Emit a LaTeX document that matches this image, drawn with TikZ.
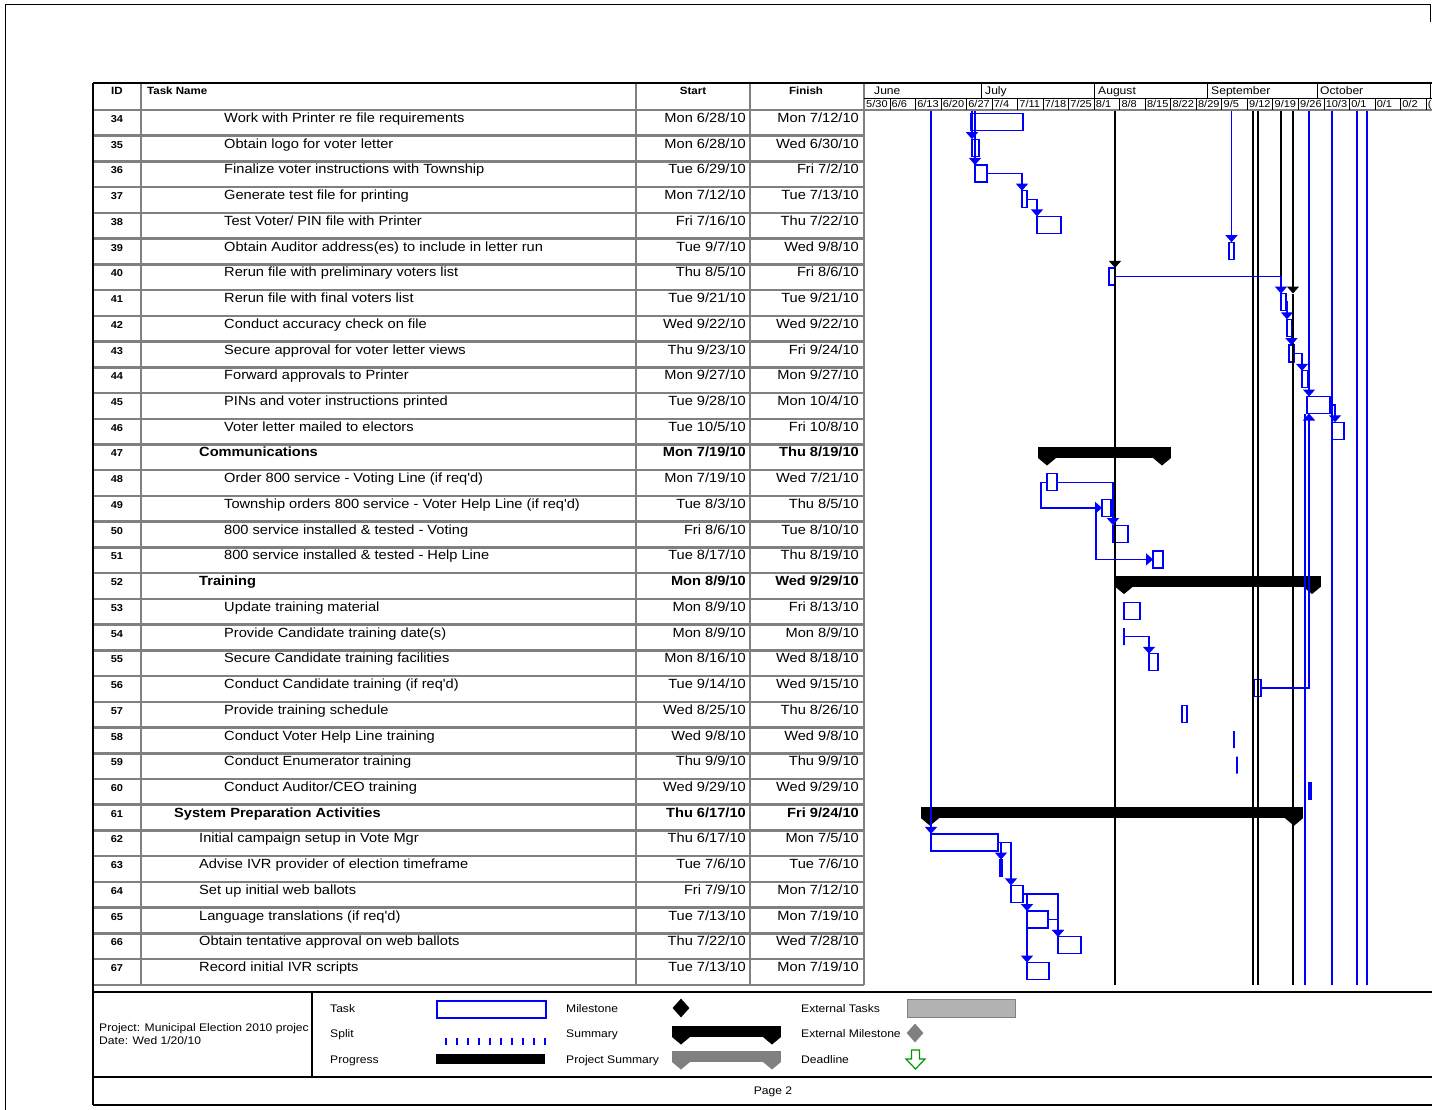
\documentclass[tikz,border=0pt]{standalone}
\usepackage{fontspec}
\usepackage{tikz}
\newfontfamily\ganttfont[FakeStretch=1.1]{Liberation Sans}
\definecolor{ganttblue}{RGB}{0, 0, 255}
\definecolor{gridgrey}{RGB}{128, 128, 128}
\definecolor{extgrey}{RGB}{178, 178, 178}
\definecolor{deadgreen}{RGB}{0, 150, 0}
\usetikzlibrary{arrows.meta, positioning, shapes.geometric}

% one line of the task table: [font] id, indent, name, start, finish
\newcommand\taskrow[6][]{%
  \pgfmathsetmacro\rowb{122.5+25.73*(#2-34)}%
  \node[idtext, anchor=base] (id#2) at (117,\rowb) {#2};
  \node[celltext, anchor=base west] (name#2) at (#3,\rowb) {#1#4};
  \node[celltext, anchor=base east] (start#2) at (746,\rowb) {#1#5};
  \node[celltext, anchor=base east] (finish#2) at (859,\rowb) {#1#6};
}
% summary bar with its two end caps: [colour] name, start x, end x, centre y
\newcommand\summarybar[5][black]{%
  \node[sumbar, fill=#1, minimum width={#4-#3+18}, anchor=north west] (#2) at ({#3-9},{#5-9.5}) {};
  \fill[#1] (#2.south west) -- ++(18,0) -- ++(-9,7.5) -- cycle;
  \fill[#1] (#2.south east) -- ++(-18,0) -- ++(9,7.5) -- cycle;
}

\begin{document}
\begin{tikzpicture}[
    x=1pt, y=-1pt,
    celltext/.style={font=\ganttfont\fontsize{13.3}{15}\selectfont, inner sep=0pt},
    idtext/.style={font=\ganttfont\fontsize{10}{12}\selectfont\bfseries, inner sep=0pt},
    headtext/.style={font=\ganttfont\fontsize{10.5}{13}\selectfont\bfseries, inner sep=0pt},
    monthtext/.style={font=\ganttfont\fontsize{11}{13}\selectfont, inner sep=0pt},
    scaletext/.style={font=\ganttfont\fontsize{10}{12}\selectfont, inner sep=0pt},
    legendtext/.style={font=\ganttfont\fontsize{11}{13}\selectfont, inner sep=0pt},
    task/.style={draw=ganttblue, line width=1.3pt, minimum height=17pt, inner sep=0pt, outer sep=0pt},
    sumbar/.style={minimum height=11pt, inner sep=0pt, outer sep=0pt},
    link/.style={ganttblue, line width=1.3pt, -{Triangle[width=12pt,length=7pt]}},
    blacklink/.style={black, line width=1.3pt, -{Triangle[width=12pt,length=7pt]}},
    passline/.style={ganttblue, line width=1.3pt},
    blackline/.style={black, line width=1.3pt},
    grid/.style={gridgrey, line width=2.5pt},
    frame/.style={black, line width=2pt}
]
    \useasboundingbox (0,0) rectangle (1432,1110);

    % Page edge
    \draw[line width=1pt] (5,1110) -- (5,5) -- (1430,5) -- (1430,22);

    % Table grid
    \foreach \k in {1,...,34}
        \draw[grid] (93,{110+25.73*\k}) -- (864,{110+25.73*\k});
    \draw[grid] (93,110) -- (1432,110);
    \draw[grid] (141,83) -- (141,985);
    \draw[grid] (636,83) -- (636,985);
    \draw[grid] (750,83) -- (750,985);
    \draw[grid] (864,83) -- (864,985);
    \draw[line width=1.5pt] (93,83) -- (93,1105);
    \draw[line width=2.5pt] (93,83) -- (1432,83);

    % Timescale
    \draw[line width=0.8pt] (864,98) -- (1432,98);
    \foreach \mx in {981,1094,1207,1317,1430}
        \draw[line width=0.8pt] (\mx,84) -- (\mx,98);
    \foreach \k in {1,...,22}
        \draw[line width=0.8pt] ({864.4+25.53*\k},98) -- ({864.4+25.53*\k},110);
    \node[monthtext, anchor=base west] (june) at (874,95) {June};
    \node[monthtext, anchor=base west] (july) at (985,95) {July};
    \node[monthtext, anchor=base west] (august) at (1098,95) {August};
    \node[monthtext, anchor=base west] (september) at (1211,95) {September};
    \node[monthtext, anchor=base west] (october) at (1320,95) {October};
    \foreach \lab [count=\k from 0] in {5/30,6/6,6/13,6/20,6/27,7/4,7/11,7/18,7/25,8/1,8/8,8/15,8/22,8/29,9/5,9/12,9/19,9/26,10/3,0/1,0/1,0/2}
        \node[scaletext, anchor=base west] (wk\k) at ({866+25.53*\k},108) {\lab};
    \node[scaletext, anchor=base west] (wk22) at (1427.6,108) {(};

    % Column heads
    \node[headtext, anchor=base] (hid) at (117,95) {ID};
    \node[headtext, anchor=base west] (hname) at (147,95) {Task Name};
    \node[headtext, anchor=base] (hstart) at (693,95) {Start};
    \node[headtext, anchor=base] (hfinish) at (806,95) {Finish};

    % Tasks
    \taskrow{34}{224}{Work with Printer re file requirements}{Mon 6/28/10}{Mon 7/12/10}
    \taskrow{35}{224}{Obtain logo for voter letter}{Mon 6/28/10}{Wed 6/30/10}
    \taskrow{36}{224}{Finalize voter instructions with Township}{Tue 6/29/10}{Fri 7/2/10}
    \taskrow{37}{224}{Generate test file for printing}{Mon 7/12/10}{Tue 7/13/10}
    \taskrow{38}{224}{Test Voter/ PIN file with Printer}{Fri 7/16/10}{Thu 7/22/10}
    \taskrow{39}{224}{Obtain Auditor address(es) to include in letter run}{Tue 9/7/10}{Wed 9/8/10}
    \taskrow{40}{224}{Rerun file with preliminary voters list}{Thu 8/5/10}{Fri 8/6/10}
    \taskrow{41}{224}{Rerun file with final voters list}{Tue 9/21/10}{Tue 9/21/10}
    \taskrow{42}{224}{Conduct accuracy check on file}{Wed 9/22/10}{Wed 9/22/10}
    \taskrow{43}{224}{Secure approval for voter letter views}{Thu 9/23/10}{Fri 9/24/10}
    \taskrow{44}{224}{Forward approvals to Printer}{Mon 9/27/10}{Mon 9/27/10}
    \taskrow{45}{224}{PINs and voter instructions printed}{Tue 9/28/10}{Mon 10/4/10}
    \taskrow{46}{224}{Voter letter mailed to electors}{Tue 10/5/10}{Fri 10/8/10}
    \taskrow[\bfseries]{47}{199}{Communications}{Mon 7/19/10}{Thu 8/19/10}
    \taskrow{48}{224}{Order 800 service - Voting Line (if req'd)}{Mon 7/19/10}{Wed 7/21/10}
    \taskrow{49}{224}{Township orders 800 service - Voter Help Line (if req'd)}{Tue 8/3/10}{Thu 8/5/10}
    \taskrow{50}{224}{800 service installed \& tested - Voting}{Fri 8/6/10}{Tue 8/10/10}
    \taskrow{51}{224}{800 service installed \& tested - Help Line}{Tue 8/17/10}{Thu 8/19/10}
    \taskrow[\bfseries]{52}{199}{Training}{Mon 8/9/10}{Wed 9/29/10}
    \taskrow{53}{224}{Update training material}{Mon 8/9/10}{Fri 8/13/10}
    \taskrow{54}{224}{Provide Candidate training date(s)}{Mon 8/9/10}{Mon 8/9/10}
    \taskrow{55}{224}{Secure Candidate training facilities}{Mon 8/16/10}{Wed 8/18/10}
    \taskrow{56}{224}{Conduct Candidate training (if req'd)}{Tue 9/14/10}{Wed 9/15/10}
    \taskrow{57}{224}{Provide training schedule}{Wed 8/25/10}{Thu 8/26/10}
    \taskrow{58}{224}{Conduct Voter Help Line training}{Wed 9/8/10}{Wed 9/8/10}
    \taskrow{59}{224}{Conduct Enumerator training}{Thu 9/9/10}{Thu 9/9/10}
    \taskrow{60}{224}{Conduct Auditor/CEO training}{Wed 9/29/10}{Wed 9/29/10}
    \taskrow[\bfseries]{61}{174}{System Preparation Activities}{Thu 6/17/10}{Fri 9/24/10}
    \taskrow{62}{199}{Initial campaign setup in Vote Mgr}{Thu 6/17/10}{Mon 7/5/10}
    \taskrow{63}{199}{Advise IVR provider of election timeframe}{Tue 7/6/10}{Tue 7/6/10}
    \taskrow{64}{199}{Set up initial web ballots}{Fri 7/9/10}{Mon 7/12/10}
    \taskrow{65}{199}{Language translations (if req'd)}{Tue 7/13/10}{Mon 7/19/10}
    \taskrow{66}{199}{Obtain tentative approval on web ballots}{Thu 7/22/10}{Wed 7/28/10}
    \taskrow{67}{199}{Record initial IVR scripts}{Tue 7/13/10}{Mon 7/19/10}

    % Bars
    \node[task, minimum width=52, anchor=west] (b34) at (971,122) {};
    \node[task, minimum width=7, anchor=west] (b35) at (972,147.7) {};
    \node[task, minimum width=12, anchor=west] (b36) at (975,173.5) {};
    \node[task, minimum width=5, anchor=west] (b37) at (1022,199.2) {};
    \node[task, minimum width=24, anchor=west] (b38) at (1037,224.9) {};
    \node[task, minimum width=5, anchor=west] (b39) at (1229,250.7) {};
    \node[task, minimum width=6, anchor=west] (b40) at (1109,276.4) {};
    \node[task, minimum width=5, anchor=west] (b41) at (1281,302.1) {};
    \node[task, minimum width=5, anchor=west] (b42) at (1287,327.8) {};
    \node[task, minimum width=5, anchor=west] (b43) at (1289,353.6) {};
    \node[task, minimum width=6, anchor=west] (b44) at (1302,379.3) {};
    \node[task, minimum width=23, anchor=west] (b45) at (1307,405) {};
    \node[task, minimum width=12, anchor=west] (b46) at (1332,430.8) {};
    \node[task, minimum width=10, anchor=west] (b48) at (1047,482.2) {};
    \node[task, minimum width=9, anchor=west] (b49) at (1102,507.9) {};
    \node[task, minimum width=15, anchor=west] (b50) at (1113,533.7) {};
    \node[task, minimum width=10, anchor=west] (b51) at (1153,559.4) {};
    \node[task, minimum width=16, anchor=west] (b53) at (1124,610.9) {};
    \node[task, minimum width=0, anchor=west] (b54) at (1124,636.6) {};
    \node[task, minimum width=9, anchor=west] (b55) at (1149,662.3) {};
    \node[task, minimum width=7, anchor=west] (b56) at (1254,688) {};
    \node[task, minimum width=5, anchor=west] (b57) at (1182,713.8) {};
    \node[task, minimum width=0, anchor=west] (b58) at (1234,739.5) {};
    \node[task, minimum width=0, anchor=west] (b59) at (1237,765.2) {};
    \node[task, minimum width=2, anchor=west] (b60) at (1309,791) {};
    \node[task, minimum width=67, anchor=west] (b62) at (931,842.4) {};
    \node[task, minimum width=2, anchor=west] (b63) at (1000,868.1) {};
    \node[task, minimum width=12, anchor=west] (b64) at (1011,893.9) {};
    \node[task, minimum width=21, anchor=west] (b65) at (1027,919.6) {};
    \node[task, minimum width=23, anchor=west] (b66) at (1058,945.3) {};
    \node[task, minimum width=22, anchor=west] (b67) at (1027,971.1) {};

    % Summaries
    \summarybar{s47}{1047}{1162}{456.5}
    \summarybar{s52}{1124}{1312}{585.1}
    \summarybar{s61}{930}{1294}{816.7}

    % Links coming from the previous page
    \coordinate (top931) at (931,111);
    \coordinate (top972) at (972,111);
    \coordinate (top975) at (975,111);
    \coordinate (top1115) at (1115,111);
    \coordinate (bot1115) at (1115,985);
    \coordinate (top1231) at (1231.5,111);
    \coordinate (top1253) at (1253,111);
    \coordinate (bot1253) at (1253,985);
    \coordinate (top1258) at (1258,111);
    \coordinate (bot1258) at (1258,985);
    \coordinate (top1281) at (1281,111);
    \coordinate (top1293) at (1293,111);
    \coordinate (mid1293) at (1293,293.5);
    \coordinate (bot1293) at (1293,985);
    \coordinate (top1309) at (1309,111);
    \coordinate (bot1305) at (1305,985);
    \coordinate (top1332) at (1332,111);
    \coordinate (bot1332) at (1332,985);
    \coordinate (top1357) at (1357,111);
    \coordinate (bot1357) at (1357,985);
    \coordinate (top1367) at (1367,111);
    \coordinate (bot1367) at (1367,985);

    \draw[link] (top931) -- (b62.north west);
    \draw[link] (top972) -- (b35.north west);
    \draw[link] (top975) -- (b36.north west);
    \draw[link] (top1231) -- (b39.north);
    \draw[blacklink] (top1115) -- (b40.north east);
    \draw[blackline] (b40.north east) -- (bot1115);
    \draw[blackline] (top1253) -- (bot1253);
    \draw[blackline] (top1258) -- (bot1258);
    \draw[blackline] (top1281) -- (b40.east -| top1281);
    \draw[blacklink] (top1293) -- (mid1293);
    \draw[blackline] (mid1293) -- (bot1293);
    \draw[link] (top1309) -- (b45.north west -| top1309);
    \draw[passline] (b45.south west -| bot1305) -- (bot1305);
    \draw[passline] (top1332) -- (bot1332);
    \draw[passline] (top1357) -- (bot1357);
    \draw[passline] (top1367) -- (bot1367);

    % Links
    \draw[link] (b36.east) -| (b37.north west);
    \draw[link] (b37.east) -| (b38.north west);
    \draw[link] (b40.east) -| (b41.north west);
    \draw[link] (b41.east) -| (b42.north west);
    \draw[link] (b42.east) -| (b43.north);
    \draw[link] (b43.east) -| (b44.north west);
    \draw[link] (b45.east) -| ([xshift=3pt]b46.north west);
    \draw[link] (b48.west) -- ++(-6,0) |- (b49.west);
    \draw[link] (b49.west) -- ++(-6,0) |- (b51.west);
    \draw[link] (b48.east) -| (b50.north west);
    \draw[link] (b54.east) -| (b55.north west);
    \draw[link] (b56.east) -| ([xshift=2pt]b45.south west);
    \draw[link] (b62.east) -| (b63.north);
    \draw[link] (b62.east) -| (b64.north west);
    \draw[link] (b64.east) -| (b65.north west);
    \draw[link] (b64.east) -| (b66.north west);
    \draw[link] (b65.east) -| (b66.north west);
    \draw[link] (b64.east) -| (b67.north west);

    % Legend
    \draw[frame] (93,992) -- (1432,992);
    \draw[frame] (93,1077) -- (1432,1077);
    \draw[frame] (93,1105) -- (1432,1105);
    \draw[frame] (312,992) -- (312,1077);
    \node[legendtext, anchor=base west] (lgproj) at (99,1031) {Project: Municipal Election 2010 projec};
    \node[legendtext, anchor=base west] (lgdate) at (99,1044) {Date: Wed 1/20/10};
    \node[legendtext, anchor=base west] (lgtask) at (330,1012) {Task};
    \node[legendtext, anchor=base west] (lgsplit) at (330,1037) {Split};
    \node[legendtext, anchor=base west] (lgprog) at (330,1063) {Progress};
    \node[legendtext, anchor=base west] (lgmile) at (566,1012) {Milestone};
    \node[legendtext, anchor=base west] (lgsum) at (566,1037) {Summary};
    \node[legendtext, anchor=base west] (lgpsum) at (566,1063) {Project Summary};
    \node[legendtext, anchor=base west] (lgext) at (801,1012) {External Tasks};
    \node[legendtext, anchor=base west] (lgextm) at (801,1037) {External Milestone};
    \node[legendtext, anchor=base west] (lgdead) at (801,1063) {Deadline};
    \node[draw=ganttblue, line width=1.5pt, minimum width=109, minimum height=17, inner sep=0pt, anchor=north west] (lgtasksym) at (436,1000) {};
    \foreach \k in {0,...,9}
        \fill[ganttblue] ({445+11*\k},1038) rectangle +(2,7);
    \node[fill=black, minimum width=109, minimum height=10, inner sep=0pt, anchor=north west] (lgprogsym) at (436,1054) {};
    \node[diamond, fill=black, minimum width=17, minimum height=19, inner sep=0pt] (lgmilesym) at (681,1008) {};
    \summarybar{lgsumsym}{681}{772}{1035.5}
    \summarybar[gridgrey]{lgpsumsym}{681}{772}{1060.5}
    \node[draw=gridgrey, fill=extgrey, line width=1pt, minimum width=108, minimum height=18, inner sep=0pt, anchor=north west] (lgextsym) at (907,999) {};
    \node[diamond, fill=gridgrey, minimum width=17, minimum height=19, inner sep=0pt] (lgextmsym) at (915,1033) {};
    \draw[deadgreen, line width=1.2pt, line join=miter] (911.5,1050) -- (919.5,1050) -- (919.5,1059) -- (925,1059) -- (915.5,1069) -- (906,1059) -- (911.5,1059) -- cycle;

    % Footer
    \node[legendtext, anchor=base] (page) at (773,1094) {Page 2};
\end{tikzpicture}
\end{document}
